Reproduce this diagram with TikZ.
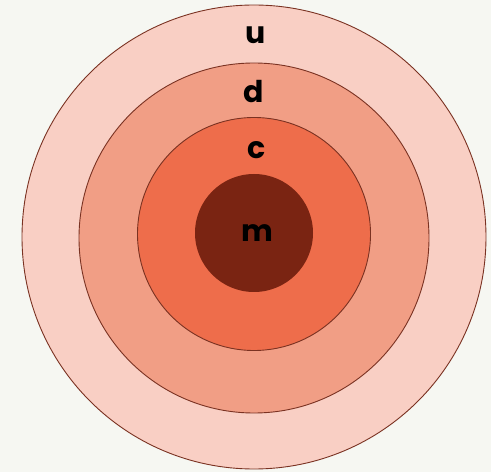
\documentclass[tikz,border=0pt]{standalone}
\usepackage{fontspec}
\setmainfont{Poppins}
\definecolor{bgc}{HTML}{F6F7F2}
\definecolor{ringu}{HTML}{F9CFC4}
\definecolor{ringd}{HTML}{F19E85}
\definecolor{ringc}{HTML}{EE6D4B}
\definecolor{corem}{HTML}{7A2412}
\definecolor{edgec}{HTML}{7A3222}
\begin{document}
\begin{tikzpicture}[x=1pt,y=1pt,
  ring/.style={circle,draw=edgec,line width=0.9pt,inner sep=0pt},
  lbl/.style={font=\bfseries\fontsize{30}{30}\selectfont,text=black,anchor=base,inner sep=0pt}]
\fill[bgc] (0,0) rectangle (491,472);
\useasboundingbox (0,0) rectangle (491,472);
\node[ring,fill=ringu,minimum size=464pt] (u) at (254,235) {};
\node[ring,fill=ringd,minimum size=350pt] (d) at (254,234) {};
\node[ring,fill=ringc,minimum size=233pt] (c) at (254,238) {};
\node[circle,fill=corem,inner sep=0pt,minimum size=118pt] (m) at (254,239) {};
\node[lbl] (tu) at (256,428) {u};
\node[lbl] (td) at (254,369) {d};
\node[lbl] (tc) at (257,313) {c};
\node[lbl] (tm) at (257,230) {m};
\end{tikzpicture}
\end{document}
